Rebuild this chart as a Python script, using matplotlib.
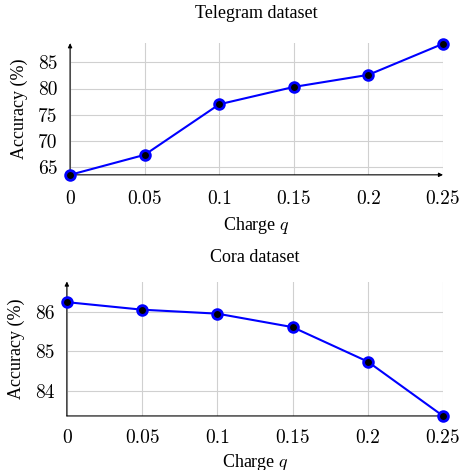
"""Accuracy vs charge q for Telegram and Cora datasets
"""
import matplotlib.pyplot as plt

plt.rcParams["font.family"] = "Liberation Serif"
plt.rcParams["mathtext.fontset"] = "cm"

charges = [0, 0.05, 0.1, 0.15, 0.2, 0.25]
tick_labels = ["0", "0.05", "0.1", "0.15", "0.2", "0.25"]

telegram_acc = [63.6, 67.4, 77.0, 80.3, 82.6, 88.5]
telegram_yticks = [65, 70, 75, 80, 85]

cora_acc = [86.24, 86.05, 85.95, 85.61, 84.74, 83.37]
cora_yticks = [84, 85, 86]

fs = 13
tfs = 14


def draw(ax, ys, yticks, ylim, title, title_pad, xpad, xlabelpad):
    ax.plot(charges, ys, color="blue", lw=1.5, marker="o", ms=7,
            mfc="black", mec="blue", mew=2, clip_on=False, zorder=5)
    ax.set_xlim(0, 0.25)
    ax.set_ylim(*ylim)
    ax.set_xticks(charges)
    ax.set_xticklabels(tick_labels, fontsize=tfs, family="cmr10")
    ax.set_yticks(yticks)
    ax.set_yticklabels([str(t) for t in yticks], fontsize=tfs, family="cmr10")
    ax.tick_params(axis="x", length=0, pad=xpad)
    ax.tick_params(axis="y", length=0, pad=9)
    ax.grid(color="#d0d0d0", lw=0.8)
    for s in ax.spines.values():
        s.set_visible(False)
    ax.annotate("", xy=(0, 1), xytext=(0, 0), xycoords="axes fraction",
                arrowprops=dict(arrowstyle="-|>", color="black", lw=0.8,
                                mutation_scale=6, shrinkA=0, shrinkB=0))
    ax.annotate("", xy=(1, 0), xytext=(0, 0), xycoords="axes fraction",
                arrowprops=dict(arrowstyle="-|>", color="black", lw=0.8,
                                mutation_scale=6, shrinkA=0, shrinkB=0))
    ax.set_xlabel("Charge $q$", fontsize=fs, labelpad=xlabelpad)
    ax.set_ylabel("Accuracy (%)", fontsize=fs, labelpad=7)
    ax.set_title(title, fontsize=fs, pad=title_pad)


fig = plt.figure(figsize=(4.61, 4.70), dpi=100)
ax1 = fig.add_axes([0.152, 0.628, 0.809, 0.280])
ax2 = fig.add_axes([0.145, 0.115, 0.816, 0.286])

draw(ax1, telegram_acc, telegram_yticks, (63.6, 88.6), "Telegram dataset",
     18, 11, 5)
draw(ax2, cora_acc, cora_yticks, (83.37, 86.76), "Cora dataset",
     14, 9.5, 3.5)

fig.savefig("out.png", dpi=100)
